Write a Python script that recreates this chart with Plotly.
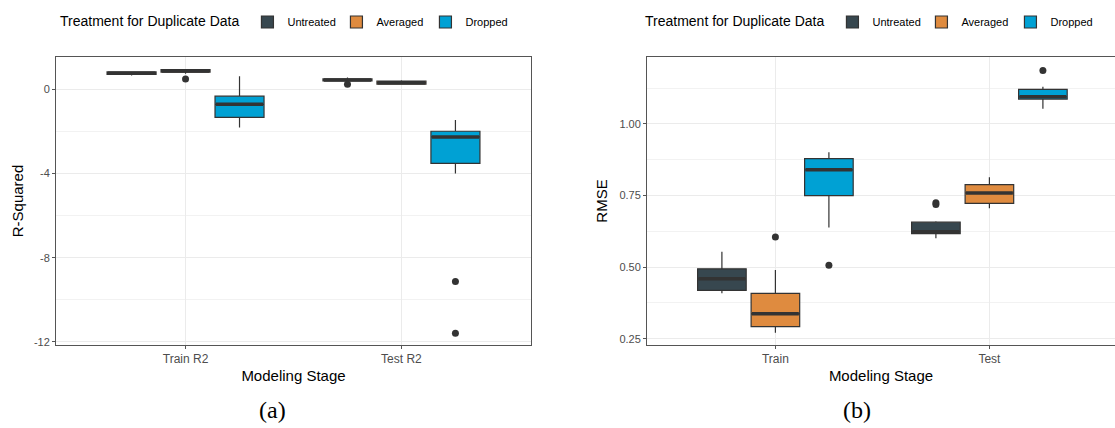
import plotly.graph_objects as go

treatments = ["Untreated", "Averaged", "Dropped"]
colors = {"Untreated": "#37474F", "Averaged": "#DF8B3F", "Dropped": "#00A1D4"}

# Panel (a): R-Squared
stages_a = ["Train R2", "Test R2"]
r2_lower = {"Untreated": [0.66, 0.34], "Averaged": [0.74, 0.22], "Dropped": [-1.81, -4.00]}
r2_q1 = {"Untreated": [0.71, 0.40], "Averaged": [0.82, 0.25], "Dropped": [-1.33, -3.52]}
r2_median = {"Untreated": [0.77, 0.45], "Averaged": [0.88, 0.32], "Dropped": [-0.71, -2.26]}
r2_q3 = {"Untreated": [0.83, 0.50], "Averaged": [0.94, 0.40], "Dropped": [-0.32, -1.99]}
r2_upper = {"Untreated": [0.86, 0.56], "Averaged": [0.97, 0.43], "Dropped": [0.63, -1.46]}
r2_outliers = {"Untreated": [[], [0.24]], "Averaged": [[0.50], []], "Dropped": [[], [-9.13, -11.59]]}

# Panel (b): RMSE
stages_b = ["Train", "Test"]
rmse_lower = {"Untreated": [0.409, 0.601], "Averaged": [0.271, 0.706], "Dropped": [0.638, 1.053]}
rmse_q1 = {"Untreated": [0.419, 0.617], "Averaged": [0.292, 0.723], "Dropped": [0.750, 1.087]}
rmse_median = {"Untreated": [0.459, 0.624], "Averaged": [0.337, 0.759], "Dropped": [0.840, 1.095]}
rmse_q3 = {"Untreated": [0.494, 0.657], "Averaged": [0.408, 0.788], "Dropped": [0.879, 1.121]}
rmse_upper = {"Untreated": [0.554, 0.660], "Averaged": [0.490, 0.814], "Dropped": [0.901, 1.130]}
rmse_outliers = {"Untreated": [[], [0.725, 0.719]], "Averaged": [[0.605], []], "Dropped": [[0.507], [1.187]]}

DODGE = 0.25
BOXW = 0.227
EDGE = "#333333"

fig = go.Figure()


def add_panel(stages, lower, q1, med, q3, upper, outl, xa, ya, legend):
    for k, t in enumerate(treatments):
        pos = [i + 1 + (k - 1) * DODGE for i in range(len(stages))]
        fig.add_trace(go.Box(
            x=pos, q1=q1[t], median=med[t], q3=q3[t],
            lowerfence=lower[t], upperfence=upper[t],
            width=BOXW, whiskerwidth=0, boxpoints=False,
            fillcolor=colors[t], line=dict(color=EDGE, width=1.2),
            name=t, legendgroup=t, legend=legend, showlegend=True,
            xaxis=xa, yaxis=ya, hoverinfo="skip"))
        mx, my = [], []
        for p, m in zip(pos, med[t]):
            mx += [p - BOXW / 2 + 0.004, p + BOXW / 2 - 0.004, None]
            my += [m, m, None]
        fig.add_trace(go.Scatter(x=mx, y=my, mode="lines",
                                 line=dict(color=EDGE, width=3.5),
                                 showlegend=False, xaxis=xa, yaxis=ya, hoverinfo="skip"))
        ox, oy = [], []
        for p, vals in zip(pos, outl[t]):
            ox += [p] * len(vals)
            oy += vals
        if ox:
            fig.add_trace(go.Scatter(x=ox, y=oy, mode="markers",
                                     marker=dict(color=EDGE, size=7),
                                     showlegend=False, xaxis=xa, yaxis=ya, hoverinfo="skip"))


add_panel(stages_a, r2_lower, r2_q1, r2_median, r2_q3, r2_upper, r2_outliers, "x", "y", "legend")
add_panel(stages_b, rmse_lower, rmse_q1, rmse_median, rmse_q3, rmse_upper, rmse_outliers, "x2", "y2", "legend2")

W, H = 1115, 428
FAM = "Liberation Sans, Arial, sans-serif"
xtickfont = dict(family=FAM, size=12, color="#4D4D4D")
ytickfont = dict(family=FAM, size=11, color="#4D4D4D")
titlefont = dict(family=FAM, size=15, color="#000000")
grid = "#EBEBEB"

common_x = dict(showline=True, linecolor="#555555", linewidth=1, mirror=True,
                showgrid=True, gridcolor=grid, gridwidth=1, zeroline=False,
                ticks="outside", ticklen=3, tickcolor="#555555",
                tickfont=xtickfont, title_font=titlefont, title_standoff=5)
common_y = dict(showline=True, linecolor="#555555", linewidth=1,
                showgrid=True, gridcolor=grid, gridwidth=1, zeroline=False,
                ticks="outside", ticklen=3, tickcolor="#555555",
                tickfont=ytickfont, title_font=titlefont)

legend_common = dict(orientation="h", xanchor="left", yanchor="middle",
                     font=dict(family=FAM, size=11, color="#000000"),
                     bgcolor="rgba(0,0,0,0)", itemwidth=30, tracegroupgap=0,
                     entrywidth=44, entrywidthmode="pixels")

fig.update_layout(
    width=W, height=H, margin=dict(l=0, r=0, t=0, b=0, autoexpand=False),
    paper_bgcolor="white", plot_bgcolor="white",
    font=dict(family=FAM),
    xaxis=dict(domain=[56 / W, 531 / W], range=[0.4, 2.6], anchor="y",
               tickvals=[1, 2], ticktext=stages_a, title_text="Modeling Stage", **common_x),
    yaxis=dict(domain=[(H - 345) / H, (H - 57) / H], range=[-12.15, 1.54], anchor="x",
               tickvals=[0, -4, -8, -12], ticktext=["0", "-4", "-8", "-12"],
               minor=dict(dtick=2, tick0=0, showgrid=True, gridcolor="#F2F2F2", gridwidth=1, ticks=""),
               mirror=True, title_text="R-Squared", title_standoff=6, **common_y),
    xaxis2=dict(domain=[647 / W, 1.0], range=[0.4, 0.4 + (W - 647) / 214.0], anchor="y2",
                tickvals=[1, 2], ticktext=stages_b, title_text="Modeling Stage", **common_x),
    yaxis2=dict(domain=[(H - 345) / H, (H - 57) / H], range=[0.228, 1.234], anchor="x2",
                tickvals=[0.25, 0.5, 0.75, 1.0], ticktext=["0.25", "0.50", "0.75", "1.00"],
                minor=dict(dtick=0.125, tick0=0, showgrid=True, gridcolor="#F2F2F2", gridwidth=1, ticks=""),
                mirror=False, title_text="RMSE", title_standoff=8, **common_y),
    legend=dict(x=58 / W, y=(H - 22) / H,
                title=dict(text="Treatment for Duplicate Data", side="left",
                           font=dict(family=FAM, size=14, color="#000000")),
                **legend_common),
    legend2=dict(x=643 / W, y=(H - 22) / H,
                 title=dict(text="Treatment for Duplicate Data", side="left",
                            font=dict(family=FAM, size=14, color="#000000")),
                 **legend_common),
    annotations=[
        dict(text="(a)", x=272 / W, y=(H - 410) / H, xref="paper", yref="paper", showarrow=False,
             xanchor="center", yanchor="middle",
             font=dict(family="Liberation Serif, Times New Roman, serif", size=24, color="#000000")),
        dict(text="(b)", x=857 / W, y=(H - 410) / H, xref="paper", yref="paper", showarrow=False,
             xanchor="center", yanchor="middle",
             font=dict(family="Liberation Serif, Times New Roman, serif", size=24, color="#000000")),
    ],
)

fig.write_html("out.html", config={"displayModeBar": False},
               post_script="document.body.style.margin='0';document.body.style.padding='0';")
